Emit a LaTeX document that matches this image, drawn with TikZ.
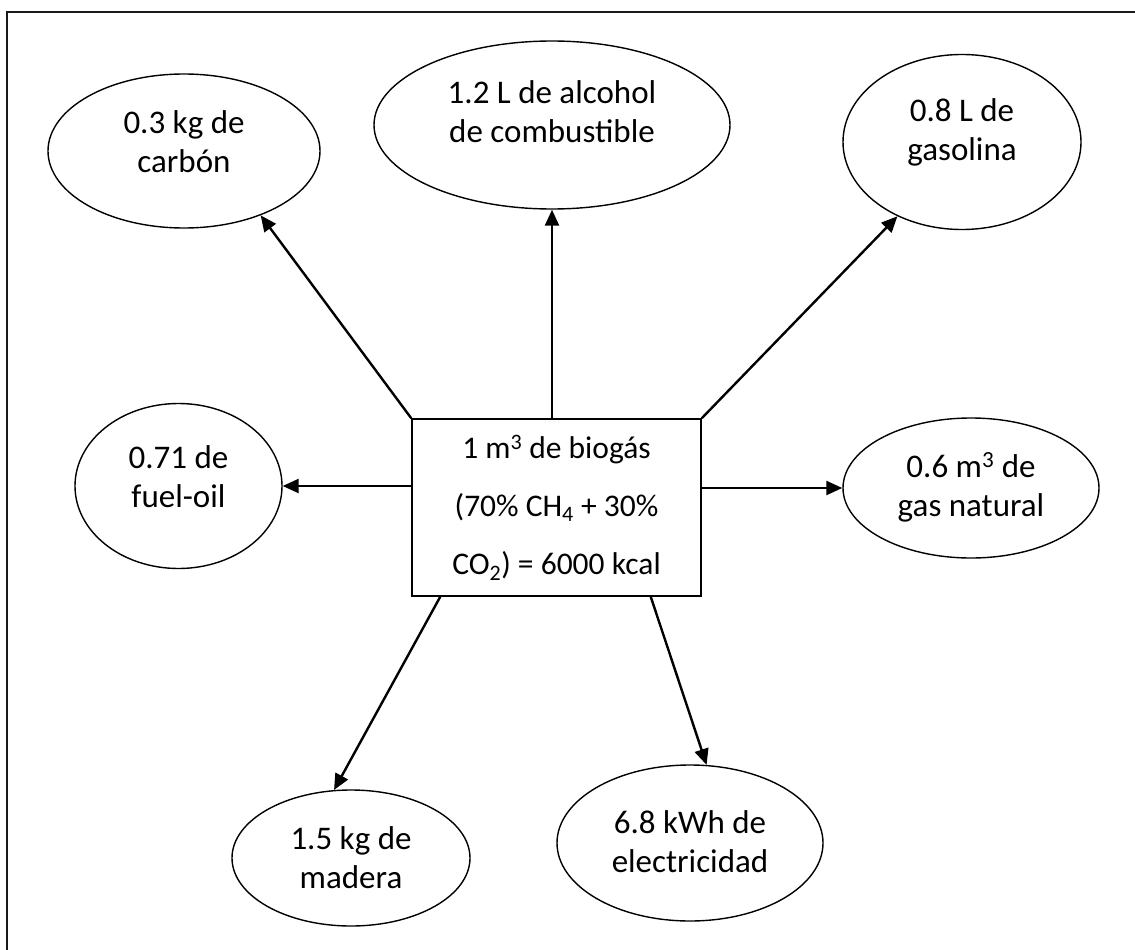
\documentclass[tikz,border=0pt]{standalone}
\usepackage{fontspec}
\setmainfont{Carlito}
\usetikzlibrary{arrows.meta,shapes.geometric}

\tikzset{
  bubble/.style={draw, ellipse, line width=1.4pt, inner sep=0pt,
    align=center, text depth=18pt, font=\fontsize{33}{39}\selectfont},
  srcbox/.style={draw, rectangle, line width=1.5pt, inner sep=0pt,
    minimum width=289pt, minimum height=177pt, align=center,
    font=\fontsize{31.5}{58}\selectfont},
  arr/.style={line width=2.4pt, -{Triangle[length=16pt,width=14pt]}},
}

\begin{document}
\begin{tikzpicture}[x=1pt,y=-1pt]
\useasboundingbox (0,0) rectangle (1135,950);
% page frame, running off the right and bottom edges
\draw[line width=2pt, black!90] (7,12) rectangle (1160,975);

% central source
\node[srcbox] (src) at (556.5,507.5)
  {1 m\textsuperscript{3} de biogás\\(70\% CH\textsubscript{4} + 30\%\\CO\textsubscript{2}) = 6000 kcal};

% equivalents
\node[bubble, minimum width=272pt, minimum height=154pt] (carbon) at (184,151) {0.3 kg de\\carbón};
\node[bubble, minimum width=356pt, minimum height=168pt, text depth=26pt] (alcohol) at (552,125) {1.2 L de alcohol\\de combustible};
\node[bubble, minimum width=238pt, minimum height=175pt, text depth=25pt] (gasolina) at (962,142) {0.8 L de\\gasolina};
\node[bubble, minimum width=207pt, minimum height=165pt] (fuel) at (178.5,486) {0.71 de\\fuel-oil};
\node[bubble, minimum width=256pt, minimum height=140pt, text depth=7pt] (gas) at (971,488) {0.6 m\textsuperscript{3} de\\gas natural};
\node[bubble, minimum width=238pt, minimum height=136pt, text depth=0pt] (madera) at (351,858) {1.5 kg de\\madera};
\node[bubble, minimum width=266pt, minimum height=156pt, text depth=2pt] (elec) at (690,843) {6.8 kWh de\\electricidad};

% connectors
\draw[arr] (src.north west) -- (carbon.-40);
\draw[arr] (src.north -| alcohol.south) -- (alcohol.south);
\draw[arr] (src.north east) -- (gasolina.-131);
\draw[arr] (src.west |- fuel) -- (fuel.east);
\draw[arr] (src.east |- gas) -- (gas.west);
\draw[arr] ([xshift=29pt]src.south west) -- (madera.104);
\draw[arr] ([xshift=-51pt]src.south east) -- (elec.78);
\end{tikzpicture}
\end{document}
